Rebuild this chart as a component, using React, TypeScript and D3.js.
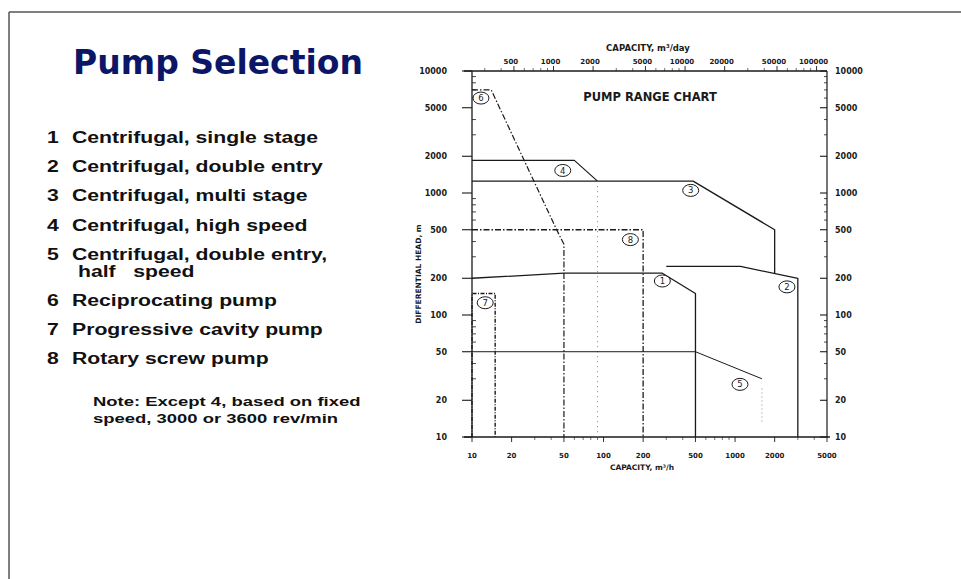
import React from 'react';
import * as d3 from 'd3';

// ---------- data ----------
const capacityTicks = [10, 20, 50, 100, 200, 500, 1000, 2000, 5000]; // m3/h
const capacityDayTicks = [500, 1000, 2000, 5000, 10000, 20000, 50000, 100000]; // m3/day
const headTicks = [10, 20, 50, 100, 200, 500, 1000, 2000, 5000, 10000]; // m

type Pt = [number, number];
const pump1: Pt[] = [[10, 200], [50, 220], [280, 220], [500, 150], [500, 10]];
const pump2: Pt[] = [[300, 250], [1100, 250], [3000, 200], [3000, 10]];
const pump3: Pt[] = [[10, 1250], [480, 1250], [2000, 500], [2000, 220]];
const pump4: Pt[] = [[10, 1850], [60, 1850], [90, 1250]];
const pump4Drop: Pt[] = [[90, 1250], [90, 10]];
const pump5: Pt[] = [[10, 50], [500, 50], [1600, 30]];
const pump5Drop: Pt[] = [[1600, 25], [1600, 13]];
const pump6: Pt[] = [[10, 7000], [14, 7000], [44, 500], [50, 380], [50, 10]];
const pump7: Pt[] = [[10, 10], [10, 150], [15, 150], [15, 10]];
const pump8: Pt[] = [[10, 500], [200, 500], [200, 10]];

const pumpLabels = [
  { id: '6', q: 11.7, h: 6000 },
  { id: '4', q: 49, h: 1530 },
  { id: '3', q: 460, h: 1050 },
  { id: '8', q: 160, h: 415 },
  { id: '1', q: 280, h: 190 },
  { id: '2', q: 2480, h: 170 },
  { id: '7', q: 12.6, h: 126 },
  { id: '5', q: 1090, h: 27 },
];

const legendNumbers = ['1', '2', '3', '4', '5', '6', '7', '8'];
const legendTexts = [
  'Centrifugal, single stage',
  'Centrifugal, double entry',
  'Centrifugal, multi stage',
  'Centrifugal, high speed',
  'Centrifugal, double entry,',
  'Reciprocating pump',
  'Progressive cavity pump',
  'Rotary screw pump',
];
const legendContinuation = 'half   speed';
const noteLines = ['Note: Except 4, based on fixed', 'speed, 3000 or 3600 rev/min'];

const titleText = 'Pump Selection';
const chartTitle = 'PUMP RANGE CHART';
const xTitle = 'CAPACITY, m\u00B3/h';
const xTopTitle = 'CAPACITY, m\u00B3/day';
const yTitle = 'DIFFERENTIAL HEAD, m';

// ---------- component ----------
export default function App() {
  const W = 961, H = 579;
  const x = d3.scaleLog().domain([10, 5000]).range([472, 827]);
  const xTop = d3.scaleLog().domain([240, 120000]).range([472, 827]);
  const y = d3.scaleLog().domain([10, 10000]).range([437, 71]);
  const [x0, x1] = x.range();
  const [y0, y1] = y.range();

  const line = d3.line<Pt>().x(d => x(d[0])).y(d => y(d[1]));

  const minorY = y.ticks().filter(v => !headTicks.includes(v));
  const minorX = x.ticks().filter(v => !capacityTicks.includes(v) && v <= 5000);
  const minorXTop = xTop.ticks().filter(v => !capacityDayTicks.includes(v) && v >= 240 && v <= 120000);

  const ink = '#1a1a1a';
  const chartFont = 'DejaVu Sans, sans-serif';
  const listFont = 'Liberation Sans, Arial, sans-serif';

  const listBase = 143;
  const listStep = 29.2;
  const itemY = (i: number) => listBase + i * listStep + (i > 4 ? 17 : 0);

  return (
    <svg width={W} height={H} style={{ position: 'absolute', left: 0, top: 0, background: '#fff' }}>
      {/* slide frame */}
      <line x1={9} y1={12} x2={W} y2={12} stroke="#555" strokeWidth={1.5} />
      <line x1={9} y1={12} x2={9} y2={H} stroke="#555" strokeWidth={1.5} />

      {/* title */}
      <text x={218} y={74} textAnchor="middle" fontFamily="DejaVu Sans, sans-serif" fontWeight="bold"
        fontSize={33} fill="#0b1667">{titleText}</text>

      {/* legend list */}
      {legendTexts.map((t, i) => (
        <g key={t}>
          <text transform={`translate(47,${itemY(i)}) scale(1.247,1)`} fontFamily={listFont} fontWeight="bold"
            fontSize={17} fill="#111">{legendNumbers[i]}</text>
          <text transform={`translate(72,${itemY(i)}) scale(1.247,1)`} fontFamily={listFont} fontWeight="bold"
            fontSize={17} fill="#111">{t}</text>
        </g>
      ))}
      <text transform={`translate(78,${itemY(4) + 17}) scale(1.247,1)`} fontFamily={listFont} fontWeight="bold"
        fontSize={17} fill="#111" style={{ whiteSpace: 'pre' }}>{legendContinuation}</text>
      {noteLines.map((t, i) => (
        <text key={t} transform={`translate(93,${406 + i * 17}) scale(1.42,1)`} fontFamily={listFont}
          fontWeight="bold" fontSize={13} fill="#111">{t}</text>
      ))}

      {/* chart axes */}
      <g stroke={ink} fill="none">
        <line x1={x0 - 8} y1={y1} x2={x1} y2={y1} strokeWidth={1.3} />
        <line x1={x0 - 8} y1={y0} x2={x1 + 3} y2={y0} strokeWidth={1.3} />
        <line x1={x0} y1={y1} x2={x0} y2={y0} strokeWidth={1.3} />
        <line x1={x1} y1={y1} x2={x1} y2={y0} strokeWidth={1.2} />
        {headTicks.map(v => (
          <g key={'ht' + v}>
            <line x1={x0 - 10} x2={x0} y1={y(v)} y2={y(v)} strokeWidth={1.1} />
            <line x1={x1 - 7} x2={x1} y1={y(v)} y2={y(v)} strokeWidth={1.1} />
          </g>
        ))}
        {minorY.map(v => (
          <g key={'hm' + v}>
            <line x1={x0} x2={x0 + 4} y1={y(v)} y2={y(v)} strokeWidth={0.8} />
            <line x1={x1 - 3} x2={x1} y1={y(v)} y2={y(v)} strokeWidth={0.8} />
          </g>
        ))}
        {capacityTicks.map(v => (
          <line key={'ct' + v} x1={x(v)} x2={x(v)} y1={y0} y2={y0 + 5} strokeWidth={0.9} />
        ))}
        {minorX.map(v => (
          <line key={'cm' + v} x1={x(v)} x2={x(v)} y1={y0} y2={y0 + 3} strokeWidth={0.6} />
        ))}
        {capacityDayTicks.map(v => (
          <line key={'dt' + v} x1={xTop(v)} x2={xTop(v)} y1={y1} y2={y1 - 5} strokeWidth={0.9} />
        ))}
        {minorXTop.map(v => (
          <line key={'dm' + v} x1={xTop(v)} x2={xTop(v)} y1={y1} y2={y1 - 3} strokeWidth={0.6} />
        ))}
      </g>

      {/* axis labels */}
      <g fontFamily={chartFont} fontWeight="bold" fill={ink}>
        {headTicks.map(v => (
          <g key={'hl' + v}>
            <text x={447} y={y(v)} dy="0.35em" textAnchor="end" fontSize={8}>{v}</text>
            <text x={835} y={y(v)} dy="0.35em" textAnchor="start" fontSize={8}>{v}</text>
          </g>
        ))}
        {capacityTicks.map(v => (
          <text key={'cl' + v} x={x(v)} y={458} textAnchor="middle" fontSize={7}>{v}</text>
        ))}
        {capacityDayTicks.map(v => (
          <text key={'dl' + v} x={xTop(v) - 3} y={64} textAnchor="middle" fontSize={7}>{v}</text>
        ))}
        <text x={642} y={470} textAnchor="middle" fontSize={7.5}>{xTitle}</text>
        <text x={648} y={51} textAnchor="middle" fontSize={8.5}>{xTopTitle}</text>
        <text transform={`translate(421,274) rotate(-90)`} textAnchor="middle" fontSize={7.5}>{yTitle}</text>
        <text x={650} y={101} textAnchor="middle" fontSize={11.5} fontWeight="bold">{chartTitle}</text>
      </g>

      {/* pump ranges */}
      <g fill="none" stroke={ink} strokeLinejoin="round">
        <path d={line(pump1) ?? ''} strokeWidth={1.3} />
        <path d={line(pump2) ?? ''} strokeWidth={1.3} />
        <path d={line(pump3) ?? ''} strokeWidth={1.3} />
        <path d={line(pump4) ?? ''} strokeWidth={1.2} />
        <path d={line(pump4Drop) ?? ''} strokeWidth={1} stroke="#888" strokeDasharray="1,4" />
        <path d={line(pump5) ?? ''} strokeWidth={1} />
        <path d={line(pump5Drop) ?? ''} strokeWidth={1} stroke="#888" strokeDasharray="1,3" />
        <path d={line(pump6) ?? ''} strokeWidth={1.2} strokeDasharray="6,2,1.5,2" />
        <path d={line(pump7) ?? ''} strokeWidth={1.4} strokeDasharray="4,1.5,1,1.5" />
        <path d={line(pump8) ?? ''} strokeWidth={1.3} strokeDasharray="6,2,1.5,2" />
      </g>

      {/* circled labels */}
      <g fontFamily={chartFont} fill={ink}>
        {pumpLabels.map(l => (
          <g key={'pl' + l.id} transform={`translate(${x(l.q)},${y(l.h)})`}>
            <ellipse rx={8} ry={6} fill="#fff" stroke={ink} strokeWidth={1} />
            <text y={0} dy="0.36em" textAnchor="middle" fontSize={8.5}>{l.id}</text>
          </g>
        ))}
      </g>
    </svg>
  );
}
